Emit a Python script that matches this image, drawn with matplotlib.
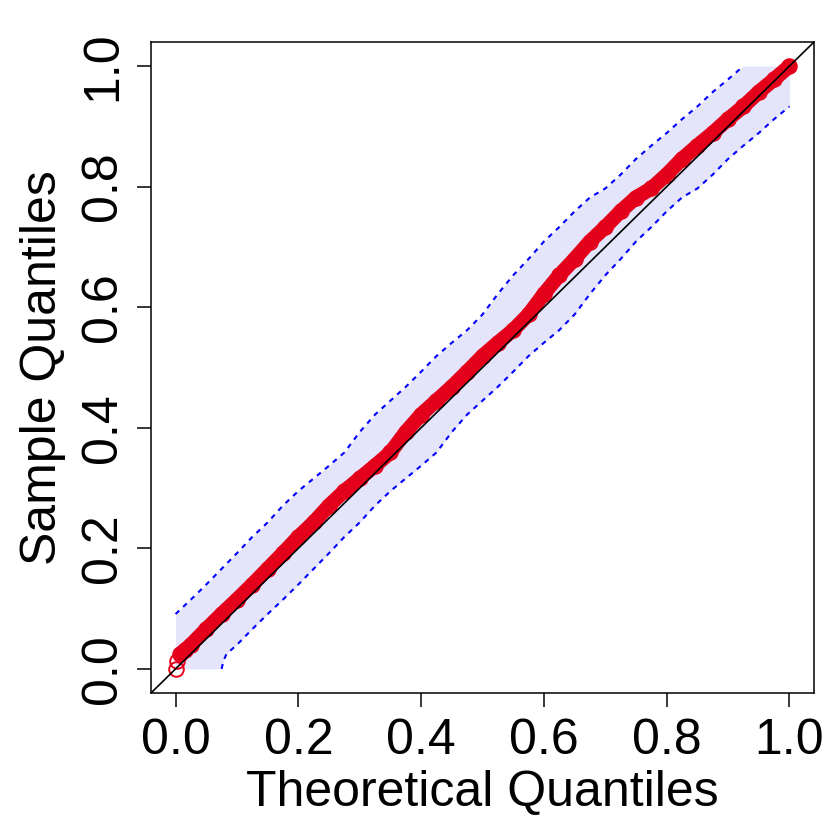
import numpy as np
import matplotlib
matplotlib.use("Agg")
import matplotlib.pyplot as plt

plt.rcParams['font.family'] = ['Liberation Sans', 'DejaVu Sans']

# theoretical uniform quantiles and the sample quantiles
theoretical = [0.000, 0.003, 0.008, 0.015, 0.025, 0.050, 0.075, 0.100, 0.125,
               0.150, 0.175, 0.200, 0.225, 0.250, 0.275, 0.300, 0.325, 0.350,
               0.375, 0.400, 0.425, 0.450, 0.475, 0.500, 0.525, 0.550, 0.575,
               0.600, 0.625, 0.650, 0.675, 0.700, 0.725, 0.750, 0.775, 0.800,
               0.825, 0.850, 0.875, 0.900, 0.925, 0.950, 0.975, 1.000]
sample = [0.000, 0.013, 0.025, 0.031, 0.040, 0.066, 0.091, 0.115, 0.140,
          0.166, 0.192, 0.219, 0.243, 0.271, 0.295, 0.316, 0.337, 0.359,
          0.393, 0.422, 0.445, 0.468, 0.493, 0.519, 0.541, 0.562, 0.588,
          0.622, 0.653, 0.680, 0.709, 0.733, 0.759, 0.782, 0.797, 0.820,
          0.846, 0.868, 0.889, 0.912, 0.933, 0.957, 0.978, 1.000]
# half width of the (horizontal) confidence band
band_eps = 0.075

ticks = [0.0, 0.2, 0.4, 0.6, 0.8, 1.0]
tick_labels = ['0.0', '0.2', '0.4', '0.6', '0.8', '1.0']

th = np.array(theoretical)
sa = np.array(sample)

fig = plt.figure(figsize=(8.3, 8.3), dpi=100)
ax = fig.add_axes([151/830, 1 - 693/830, 663/830, 651/830])

# confidence band
left = np.clip(th - band_eps, 0, 1)
right = np.clip(th + band_eps, 0, 1)
ax.fill_betweenx(sa, left, right, color='#e4e4fb', lw=0, zorder=1)

up = th - band_eps >= -1e-9
lo = th + band_eps <= 1 + 1e-9
ax.plot(th[up] - band_eps, sa[up], color='#0000ff', lw=1.5, dashes=(2.4, 2.6), zorder=2)
ax.plot(th[lo] + band_eps, sa[lo], color='#0000ff', lw=1.5, dashes=(2.4, 2.6), zorder=2)

# points
ax.plot(th[2:], sa[2:], color='#e2001a', lw=10.5, solid_capstyle='round',
        solid_joinstyle='round', zorder=3)
ax.plot(th, sa, 'o', mfc='none', mec='#e8001a', ms=10.5, mew=1.4, zorder=4)

# reference line
ax.axline((0, 0), slope=1, color='black', lw=1.2, zorder=5)

ax.set_xlim(-0.04, 1.04)
ax.set_ylim(-0.04, 1.04)
ax.set_xticks(ticks)
ax.set_xticklabels(tick_labels)
ax.set_yticks(ticks)
ax.set_yticklabels(tick_labels, rotation=90, va='center')
ax.tick_params(labelsize=36, length=10, width=1.1, pad=8)
for s in ax.spines.values():
    s.set_linewidth(1.1)

ax.set_xlabel('Theoretical Quantiles', fontsize=36, labelpad=4)
ax.set_ylabel('Sample Quantiles', fontsize=36, labelpad=10)

fig.savefig('out.png', dpi=100)
